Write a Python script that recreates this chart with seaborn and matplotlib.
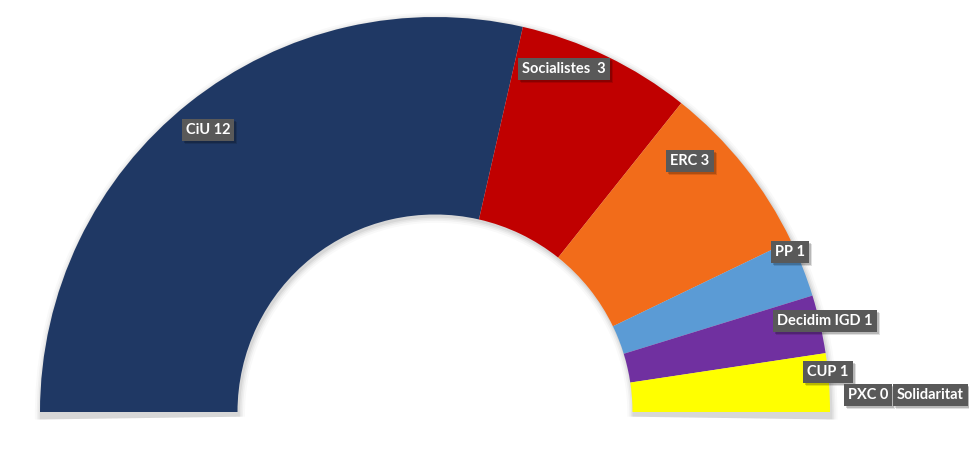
import matplotlib
matplotlib.use("Agg")
import matplotlib.pyplot as plt
from matplotlib.patches import Wedge, Rectangle
import seaborn as sns

# ---- data ----
parties = ["CiU", "Socialistes", "ERC", "PP", "Decidim IGD", "CUP", "PXC", "Solidaritat"]
seats = [12, 3, 3, 1, 1, 1, 0, 0]
label_texts = ["CiU 12", "Socialistes  3", "ERC 3", "PP 1", "Decidim IGD 1", "CUP 1", "PXC 0", "Solidaritat"]

# ---- styling ----
party_colors = ["#1F3864", "#C00000", "#F26C1A", "#5B9BD5", "#7030A0", "#FFFF00", "#A5A5A5", "#70AD47"]
# label box centres in pixels (x from left, y from top); last one left-anchored
label_px = [(208, 130), (564, 69), (690, 161), (790, 252), (825, 321), (828, 372), (868, 395), (897, 395)]
label_ha = ["center"] * 7 + ["left"]

W, H, DPI = 970, 449, 100
sns.set_theme(style="white")
plt.rcParams["font.family"] = ["Lato", "DejaVu Sans"]

fig = plt.figure(figsize=(W / DPI, H / DPI), dpi=DPI)
ax = fig.add_axes([0, 0, 1, 1])

R_PX = 395.0
CX, CY = 435.0, 412.0

total = sum(seats)
values = seats + [total]
colors = party_colors + ["none"]

# soft shadow / glow
for d, a in [(0.016, 0.025), (0.011, 0.035), (0.007, 0.045), (0.003, 0.06)]:
    ax.add_patch(Wedge((0.003, -0.005), 1 + d, -0.8, 180.8, width=0.5 + 2 * d,
                       facecolor="black", alpha=a, edgecolor="none", zorder=1))

ax.pie(values, colors=colors, startangle=180, counterclock=False, radius=1.0,
       wedgeprops=dict(width=0.5, edgecolor="none", zorder=2))

ax.set_aspect("auto")
ax.set_xlim(-CX / R_PX, (W - CX) / R_PX)
ax.set_ylim(-(H - CY) / R_PX, CY / R_PX)
ax.axis("off")

texts = []
for txt, (px, py), ha in zip(label_texts, label_px, label_ha):
    fx, fy = px / W, 1 - py / H
    t = fig.text(fx, fy, txt, ha=ha, va="center", fontsize=10.5, fontweight="bold", color="white",
                 bbox=dict(boxstyle="square,pad=0.28", facecolor="#595959", edgecolor="none"),
                 zorder=6)
    texts.append(t)

# drop shadows for the label boxes
fig.canvas.draw()
for t in texts:
    bb = t.get_bbox_patch().get_window_extent()
    for off, a in [(3.0, 0.12), (2.0, 0.18)]:
        fig.patches.append(Rectangle((bb.x0 + off, bb.y0 - off), bb.width, bb.height,
                                     transform=None, facecolor="black", alpha=a,
                                     edgecolor="none", zorder=5, figure=fig))

fig.savefig("out.png", dpi=DPI, facecolor="white")
